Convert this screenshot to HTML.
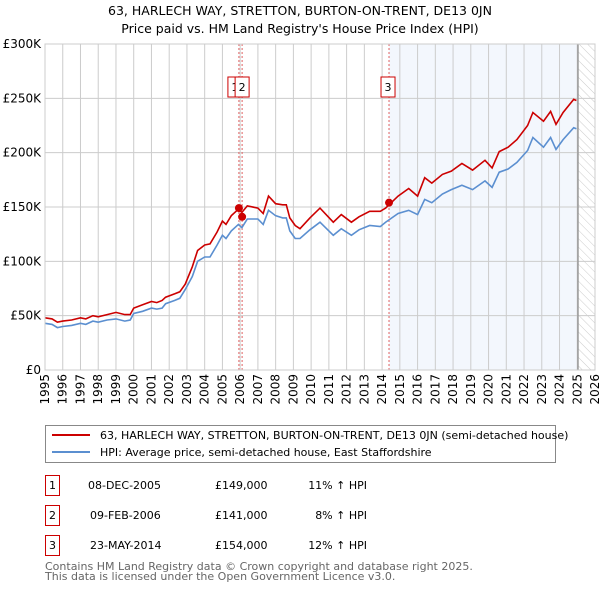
<!DOCTYPE html>
<html><head><meta charset="utf-8"><style>
body{margin:0;background:#fff;width:600px;height:590px;overflow:hidden}
svg{display:block;font-family:"DejaVu Sans","Liberation Sans",sans-serif}
</style></head><body>
<svg id="chart" width="600" height="590" xmlns="http://www.w3.org/2000/svg">
<defs><pattern id="hatch" width="6" height="6" patternUnits="userSpaceOnUse" patternTransform="rotate(-45)"><line x1="0" y1="0" x2="0" y2="6" stroke="#ccc" stroke-width="1"/></pattern></defs>
<text x="300" y="15" text-anchor="middle" font-size="12.5" fill="#000">63, HARLECH WAY, STRETTON, BURTON-ON-TRENT, DE13 0JN</text>
<text x="300" y="33" text-anchor="middle" font-size="12.5" fill="#000">Price paid vs. HM Land Registry's House Price Index (HPI)</text>
<g id="plot"></g>
<rect x="45.5" y="425.5" width="510" height="37" fill="#fff" stroke="#888"/>
<line x1="52" y1="435" x2="90" y2="435" stroke="#cc0000" stroke-width="2"/>
<text x="100" y="439" font-size="11">63, HARLECH WAY, STRETTON, BURTON-ON-TRENT, DE13 0JN (semi-detached house)</text>
<line x1="52" y1="452" x2="90" y2="452" stroke="#5b8fd0" stroke-width="2"/>
<text x="100" y="456" font-size="11">HPI: Average price, semi-detached house, East Staffordshire</text>
<g font-size="11" fill="#000">
<g><rect x="45.5" y="475.5" width="14" height="20" fill="#fff" stroke="#cc0000"/><text x="52.5" y="489" text-anchor="middle">1</text><text x="88" y="489">08-DEC-2005</text><text x="215" y="489">£149,000</text><text x="367" y="489" text-anchor="end">11% ↑ HPI</text></g>
<g><rect x="45.5" y="505.5" width="14" height="20" fill="#fff" stroke="#cc0000"/><text x="52.5" y="519" text-anchor="middle">2</text><text x="90" y="519">09-FEB-2006</text><text x="215" y="519">£141,000</text><text x="367" y="519" text-anchor="end">8% ↑ HPI</text></g>
<g><rect x="45.5" y="535.5" width="14" height="20" fill="#fff" stroke="#cc0000"/><text x="52.5" y="549" text-anchor="middle">3</text><text x="90" y="549">23-MAY-2014</text><text x="215" y="549">£154,000</text><text x="367" y="549" text-anchor="end">12% ↑ HPI</text></g>
</g>
<text x="45" y="570" font-size="11" fill="#666">Contains HM Land Registry data © Crown copyright and database right 2025.</text>
<text x="45" y="580" font-size="11" fill="#666">This data is licensed under the Open Government Licence v3.0.</text>
</svg>
<script>
const hpiDates=[1995.0,1995.4,1995.7,1996.0,1996.5,1997.0,1997.3,1997.7,1998.0,1998.5,1999.0,1999.5,1999.8,2000.0,2000.5,2001.0,2001.3,2001.6,2001.8,2002.3,2002.6,2002.9,2003.3,2003.6,2004.0,2004.3,2004.7,2005.0,2005.2,2005.5,2005.9,2006.1,2006.4,2007.0,2007.3,2007.6,2008.0,2008.4,2008.6,2008.8,2009.1,2009.37,2009.93,2010.5,2011.25,2011.7,2012.27,2012.7,2013.3,2013.9,2014.2,2014.9,2015.5,2016.0,2016.4,2016.8,2017.4,2017.9,2018.5,2019.1,2019.8,2020.2,2020.6,2021.1,2021.6,2022.2,2022.5,2023.1,2023.5,2023.8,2024.2,2024.8,2024.95];
const hpiValues=[43,42,39,40,41,43,42,45,44,46,47,45,46,52,54,57,56,57,61,64,66,74,86,100,104,104,115,124,121,128,134,131,139,139,134,147,142,140,140,128,121,121,129,136,124,130,124,129,133,132,136,144,147,143,157,154,162,166,170,166,174,168,182,185,191,202,214,205,214,203,212,223,222];
const priceValues=[48,47,44,45,46,48,47,50,49,51,53,51,51,57,60,63,62,64,67,70,72,79,95,110,115,116,127,137,134,142,148,145,151,149,144,160,153,152,152,140,133,130,140,149,136,143,136,141,146,146,149,160,167,160,177,172,180,183,190,184,193,186,201,205,212,225,237,229,238,226,237,249,248];
const saleDates=[2005.93,2006.11,2014.39];
const salePrices=[149,141,154];
const saleLabels=["1","2","3"];
const yTicks=[0,50,100,150,200,250,300];
const yTickLabels=["£0","£50K","£100K","£150K","£200K","£250K","£300K"];
const xYears=[1995,1996,1997,1998,1999,2000,2001,2002,2003,2004,2005,2006,2007,2008,2009,2010,2011,2012,2013,2014,2015,2016,2017,2018,2019,2020,2021,2022,2023,2024,2025,2026];
const dataEnd=2025.04;
const X0=45,X1=595,Y0=370,Y1=44,xmin=1995,xmax=2026,ymax=300;
const sx=v=>X0+(v-xmin)/(xmax-xmin)*(X1-X0);
const sy=v=>Y0-v/ymax*(Y0-Y1);
const NS="http://www.w3.org/2000/svg";
const g=document.getElementById('plot');
function mk(tag,attrs,parent){const e=document.createElementNS(NS,tag);for(const k in attrs)e.setAttribute(k,attrs[k]);(parent||g).appendChild(e);return e;}
let r=mk('rect',{x:sx(saleDates[2]),y:Y1,width:sx(dataEnd)-sx(saleDates[2]),height:Y0-Y1,fill:'#eef3fc',opacity:0.7});


r=mk('rect',{x:sx(dataEnd),y:Y1,width:X1-sx(dataEnd),height:Y0-Y1,fill:'url(#hatch)'});


yTicks.forEach((t,i)=>{
  const l=mk('line',{x1:X0,x2:X1,y1:sy(t),y2:sy(t),stroke:'#ccc'});
  
  
  const tx=mk('text',{x:X0-4,y:sy(t)+4,'text-anchor':'end','font-size':12});
  
  
  tx.textContent=yTickLabels[i];
});
xYears.forEach(yr=>{
  const l=mk('line',{x1:sx(yr),x2:sx(yr),y1:Y1,y2:Y0,stroke:'#ccc'});
  
  
  const tx=mk('text',{x:0,y:0,'text-anchor':'end','font-size':12,transform:`translate(${sx(yr)+4},${Y0+4}) rotate(-90)`});
  
  
  tx.textContent=yr;
});
let ln=mk('line',{x1:sx(dataEnd),x2:sx(dataEnd),y1:Y1,y2:Y0,stroke:'#999','stroke-width':1.5});


saleDates.forEach((d,i)=>{
  const l=mk('line',{x1:sx(d),x2:sx(d),y1:Y1,y2:Y0,stroke:'#e06060','stroke-dasharray':'2,2'});
  
  
});
const pts=(vals)=>hpiDates.map((d,i)=>sx(d).toFixed(1)+','+sy(vals[i]).toFixed(1)).join(' ');
let p=mk('polyline',{points:pts(hpiValues),fill:'none',stroke:'#5b8fd0','stroke-width':1.6});


p=mk('polyline',{points:pts(priceValues),fill:'none',stroke:'#cc0000','stroke-width':1.6});


saleDates.forEach((d,i)=>{
  const c=mk('circle',{cx:sx(d),cy:sy(salePrices[i]),r:4,fill:'#cc0000'});
  
  
  const bx=sx(d)+(i===0?-11:(i===1?-7:-8)), by=77;
  const b=mk('rect',{x:bx,y:by,width:14,height:20,fill:'#fff',stroke:'#cc0000'});
  
  
  const t=mk('text',{x:bx+7,y:by+14,'text-anchor':'middle','font-size':11});
  
  
  t.textContent=saleLabels[i];
});
let ax=mk('rect',{x:X0,y:Y1,width:X1-X0,height:Y0-Y1,fill:'none',stroke:'#ccc'});


</script>
</body></html>
